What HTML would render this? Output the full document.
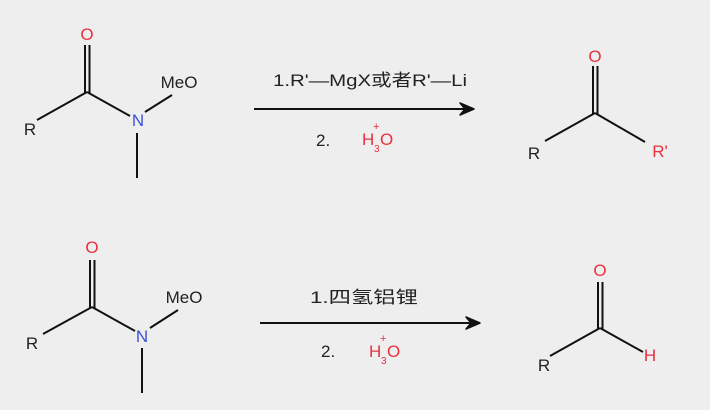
<!DOCTYPE html>
<html><head><meta charset="utf-8"><style>
html,body{margin:0;padding:0;background:#eeeeee;}
svg{display:block}
text{font-family:"Liberation Sans","Noto Sans CJK SC",sans-serif;font-size:17px;}
.k{fill:#222}.r{fill:#e8303f}.b{fill:#3b4fd8}
</style></head><body>
<svg width="710" height="410" viewBox="0 0 710 410" xmlns="http://www.w3.org/2000/svg">
<rect width="710" height="410" fill="#eeeeee"/>
<g stroke="#111" stroke-width="2" fill="none">
<line x1="85" y1="45" x2="85" y2="93"/><line x1="89.5" y1="45" x2="89.5" y2="93"/>
<line x1="37" y1="120" x2="87" y2="92"/>
<line x1="87" y1="92" x2="130" y2="116"/>
<line x1="145" y1="112" x2="172" y2="95"/>
<line x1="137" y1="133" x2="137" y2="178"/>
<line x1="254" y1="109" x2="468" y2="109"/>
<line x1="593" y1="66" x2="593" y2="114"/><line x1="597.5" y1="66" x2="597.5" y2="114"/>
<line x1="545" y1="141" x2="595" y2="113"/>
<line x1="595" y1="113" x2="645" y2="142"/>
<line x1="90" y1="260" x2="90" y2="308"/><line x1="94.5" y1="260" x2="94.5" y2="308"/>
<line x1="43" y1="334" x2="92" y2="307"/>
<line x1="92" y1="307" x2="135" y2="331"/>
<line x1="150" y1="328" x2="178" y2="310"/>
<line x1="142" y1="348" x2="142" y2="393"/>
<line x1="260" y1="323" x2="474" y2="323"/>
<line x1="598" y1="282" x2="598" y2="329"/><line x1="602.5" y1="282" x2="602.5" y2="329"/>
<line x1="550" y1="356" x2="600" y2="328"/>
<line x1="600" y1="328" x2="643" y2="352"/>
</g>
<path d="M460 103 L474 109 L460 115 L465 109 Z" fill="#111" stroke="#111" stroke-width="1.5" stroke-linejoin="round"/>
<path d="M466 317 L480 323 L466 329 L471 323 Z" fill="#111" stroke="#111" stroke-width="1.5" stroke-linejoin="round"/>
<g text-anchor="middle">
<text x="87" y="40" class="r">O</text>
<text x="30" y="135" class="k">R</text>
<text x="138" y="126" class="b">N</text>
<text x="179" y="88" class="k">MeO</text>
<text x="595" y="62" class="r">O</text>
<text x="534" y="159" class="k">R</text>
<text x="660" y="157" class="r">R'</text>
<text x="92" y="253" class="r">O</text>
<text x="32" y="349" class="k">R</text>
<text x="142" y="342" class="b">N</text>
<text x="184" y="303" class="k">MeO</text>
<text x="600" y="276" class="r">O</text>
<text x="544" y="371" class="k">R</text>
<text x="650" y="361" class="r">H</text>
</g>
<text x="273" y="86" class="k" textLength="194" lengthAdjust="spacingAndGlyphs">1.R'—MgX或者R'—Li</text>
<text x="310" y="303" class="k" textLength="108" lengthAdjust="spacingAndGlyphs">1.四氢铝锂</text>
<text x="316" y="146" class="k">2.</text>
<text x="321" y="357" class="k">2.</text>
<text x="362" y="145" class="r">H</text><text x="374" y="152" class="r" style="font-size:10px">3</text><text x="373" y="130" class="r" style="font-size:11px">+</text><text x="380" y="145" class="r">O</text>
<text x="369" y="357" class="r">H</text><text x="381" y="364" class="r" style="font-size:10px">3</text><text x="380" y="342" class="r" style="font-size:11px">+</text><text x="387" y="357" class="r">O</text>
</svg>
</body></html>
